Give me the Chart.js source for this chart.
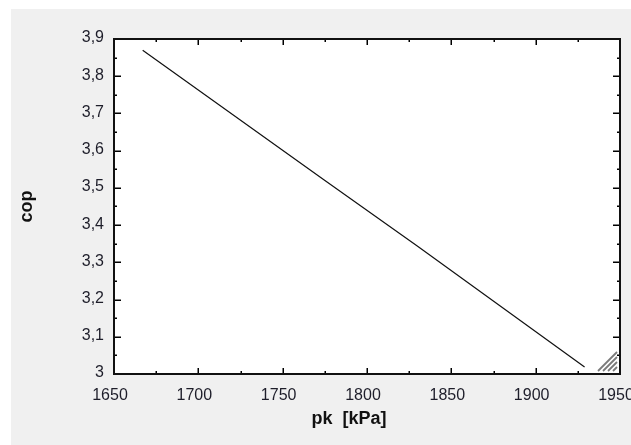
<!DOCTYPE html>
<html>
<head>
<meta charset="utf-8">
<script src="https://cdn.jsdelivr.net/npm/chart.js@4.4.0/dist/chart.umd.min.js"></script>
<style>
  html, body { margin: 0; padding: 0; background: #ffffff; }
  #wrap { position: absolute; left: 0; top: 0; width: 631px; height: 445px; }
</style>
</head>
<body>
<div id="wrap"><canvas id="c" width="631" height="445"></canvas></div>
<script>
// ---- data ----
const pkValues  = [1667, 1774, 1830, 1929];          // pk [kPa]
const copValues = [3.870, 3.523, 3.343, 3.019];      // cop
const xMajorTicks = [1650, 1700, 1750, 1800, 1850, 1900, 1950];
const xMinorTicks = [1675, 1725, 1775, 1825, 1875, 1925];
const yMajorTicks = [3.0, 3.1, 3.2, 3.3, 3.4, 3.5, 3.6, 3.7, 3.8, 3.9];
const yMinorTicks = [3.05, 3.15, 3.25, 3.35, 3.45, 3.55, 3.65, 3.75, 3.85];
const yTickLabels = ['3', '3,1', '3,2', '3,3', '3,4', '3,5', '3,6', '3,7', '3,8', '3,9'];
const xTitle = 'pk  [kPa]';
const yTitle = 'cop';

const FONT = '"Liberation Sans", Arial, sans-serif';

const framePlugin = {
  id: 'frame',
  beforeDraw(chart) {
    const ctx = chart.ctx, a = chart.chartArea;
    ctx.save();
    ctx.fillStyle = '#ffffff';
    ctx.fillRect(0, 0, chart.width, chart.height);
    ctx.fillStyle = '#f0f0f0';
    ctx.fillRect(11, 9, chart.width - 11, chart.height - 9);
    ctx.fillStyle = '#ffffff';
    ctx.fillRect(a.left, a.top, a.right - a.left, a.bottom - a.top);
    ctx.restore();
  },
  afterDraw(chart) {
    const ctx = chart.ctx, a = chart.chartArea;
    const xs = chart.scales.x, ys = chart.scales.y;
    ctx.save();
    // resize grip
    ctx.strokeStyle = '#7a7a7a';
    ctx.lineWidth = 1.8;
    const gx = a.right - 3, gy = a.bottom - 3, gs = 19;
    for (let i = 0; i < 4; i++) {
      const o = i * 5;
      ctx.beginPath();
      ctx.moveTo(gx - gs + o, gy);
      ctx.lineTo(gx, gy - gs + o);
      ctx.stroke();
    }
    // inward ticks
    ctx.strokeStyle = '#000000';
    ctx.lineWidth = 1.5;
    const drawX = (v, len) => {
      const p = Math.round(xs.getPixelForValue(v)) + 0.25;
      ctx.beginPath();
      ctx.moveTo(p, a.bottom); ctx.lineTo(p, a.bottom - len);
      ctx.moveTo(p, a.top); ctx.lineTo(p, a.top + len);
      ctx.stroke();
    };
    const drawY = (v, len) => {
      const p = Math.round(ys.getPixelForValue(v)) + 0.25;
      ctx.beginPath();
      ctx.moveTo(a.left, p); ctx.lineTo(a.left + len, p);
      ctx.moveTo(a.right, p); ctx.lineTo(a.right - len, p);
      ctx.stroke();
    };
    xMajorTicks.forEach(v => drawX(v, 6));
    xMinorTicks.forEach(v => drawX(v, 3));
    yMajorTicks.forEach(v => drawY(v, 7));
    yMinorTicks.forEach(v => drawY(v, 3));
    // frame
    ctx.lineWidth = 2;
    ctx.strokeStyle = '#111111';
    ctx.strokeRect(a.left, a.top, a.right - a.left, a.bottom - a.top);
    // x axis title
    ctx.fillStyle = '#111111';
    ctx.font = 'bold 18px ' + FONT;
    ctx.textAlign = 'center';
    ctx.textBaseline = 'alphabetic';
    ctx.fillText(xTitle, 349, 424);
    ctx.restore();
  }
};

new Chart(document.getElementById('c'), {
  type: 'line',
  data: {
    datasets: [{
      data: pkValues.map((x, i) => ({ x: x, y: copValues[i] })),
      borderColor: '#111111',
      borderWidth: 1.2,
      pointRadius: 0,
      tension: 0,
      fill: false
    }]
  },
  options: {
    responsive: false,
    animation: false,
    devicePixelRatio: 1,
    layout: { padding: { top: 39, left: 0, right: 11, bottom: 0 } },
    plugins: { legend: { display: false }, tooltip: { enabled: false } },
    scales: {
      x: {
        type: 'linear',
        min: 1650, max: 1950,
        grid: { display: false, drawTicks: false },
        border: { display: false },
        afterBuildTicks: s => { s.ticks = xMajorTicks.map(v => ({ value: v })); },
        afterFit: s => { s.height = 71; s.paddingLeft = 0; s.paddingRight = 0; },
        ticks: {
          padding: 12,
          labelOffset: -4,
          maxRotation: 0,
          autoSkip: false,
          color: '#1e1e2a',
          font: { family: FONT, size: 16 },
          callback: v => String(v)
        },
        title: { display: false }
      },
      y: {
        type: 'linear',
        min: 3.0, max: 3.9,
        grid: { display: false, drawTicks: false },
        border: { display: false },
        afterBuildTicks: s => { s.ticks = yMajorTicks.map(v => ({ value: v })); },
        afterFit: s => { s.width = 114; s.paddingTop = 0; s.paddingBottom = 0; },
        ticks: {
          padding: 10,
          labelOffset: -1,
          autoSkip: false,
          color: '#1e1e2a',
          font: { family: FONT, size: 16 },
          callback: (v, i) => yTickLabels[i]
        },
        title: {
          display: true,
          text: yTitle,
          color: '#111111',
          font: { family: FONT, size: 18, weight: 'bold' },
          padding: { top: 16, bottom: 0 }
        }
      }
    }
  },
  plugins: [framePlugin]
});
</script>
</body>
</html>
